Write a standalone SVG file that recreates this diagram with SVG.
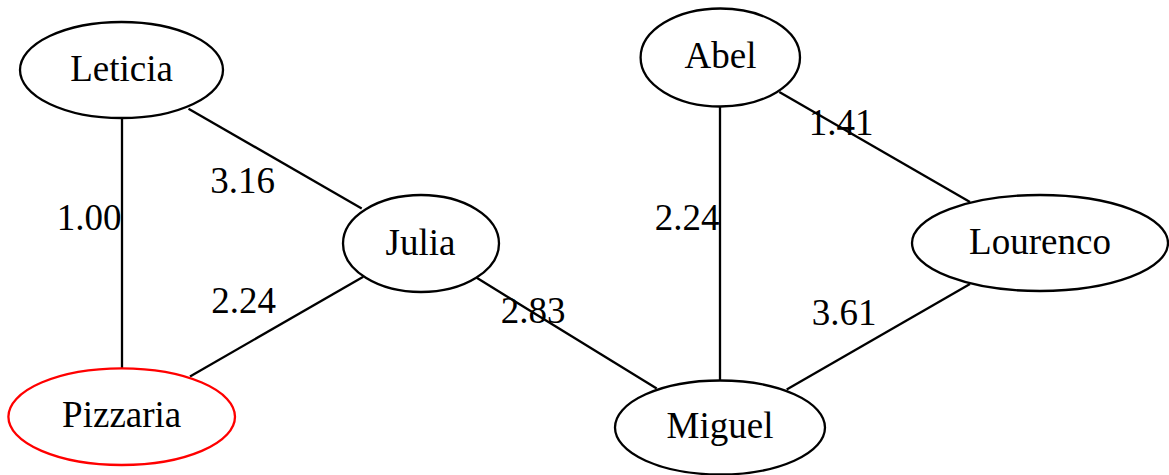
<svg xmlns="http://www.w3.org/2000/svg" width="1169" height="475" viewBox="0 0 1169 475">
<style>
.n{fill:none;stroke:#000;stroke-width:2.3}
.r{fill:none;stroke:#ff0000;stroke-width:2.3}
.e{stroke:#000;stroke-width:2.3;fill:none}
.t{font-family:"Liberation Serif",Tinos,"Times New Roman",Times,"DejaVu Serif",serif;font-size:37px;fill:#000;text-anchor:middle}
</style>
<rect width="1169" height="475" fill="#fff"/>
<g id="edges">
<line class="e" x1="122" y1="118" x2="122" y2="368.5"/>
<line class="e" x1="188.5" y1="108.7" x2="361.7" y2="208.5"/>
<line class="e" x1="363.3" y1="276.7" x2="190" y2="376.5"/>
<line class="e" x1="476.7" y1="277.8" x2="656.7" y2="388.5"/>
<line class="e" x1="720" y1="106.5" x2="720" y2="380"/>
<line class="e" x1="779.3" y1="92" x2="970" y2="202"/>
<line class="e" x1="786.7" y1="389.5" x2="970" y2="284"/>
<text class="t" font-family="Liberation Serif, serif" x="89" y="230">1.00</text>
<text class="t" font-family="Liberation Serif, serif" x="242.5" y="192.7">3.16</text>
<text class="t" font-family="Liberation Serif, serif" x="243.5" y="313.3">2.24</text>
<text class="t" font-family="Liberation Serif, serif" x="533" y="323.3">2.83</text>
<text class="t" font-family="Liberation Serif, serif" x="687" y="230">2.24</text>
<text class="t" font-family="Liberation Serif, serif" x="841" y="135">1.41</text>
<text class="t" font-family="Liberation Serif, serif" x="844" y="325">3.61</text>
</g>
<g id="Leticia"><ellipse class="n" cx="121.5" cy="70" rx="101.5" ry="48"/><text class="t" font-family="Liberation Serif, serif" x="121.5" y="81">Leticia</text></g>
<g id="Julia"><ellipse class="n" cx="421" cy="243.5" rx="78" ry="48.5"/><text class="t" font-family="Liberation Serif, serif" x="420.5" y="255">Julia</text></g>
<g id="Abel"><ellipse class="n" cx="720.3" cy="57.5" rx="79.7" ry="49"/><text class="t" font-family="Liberation Serif, serif" x="720.5" y="68.3">Abel</text></g>
<g id="Lourenco"><ellipse class="n" cx="1040" cy="243" rx="128" ry="48"/><text class="t" font-family="Liberation Serif, serif" x="1040" y="254">Lourenco</text></g>
<g id="Pizzaria"><ellipse class="r" cx="121.7" cy="416.7" rx="113.3" ry="48.3"/><text class="t" font-family="Liberation Serif, serif" x="121.7" y="427.3">Pizzaria</text></g>
<g id="Miguel"><ellipse class="n" cx="720" cy="427.5" rx="105" ry="47"/><text class="t" font-family="Liberation Serif, serif" x="720" y="438.3">Miguel</text></g>
</svg>
